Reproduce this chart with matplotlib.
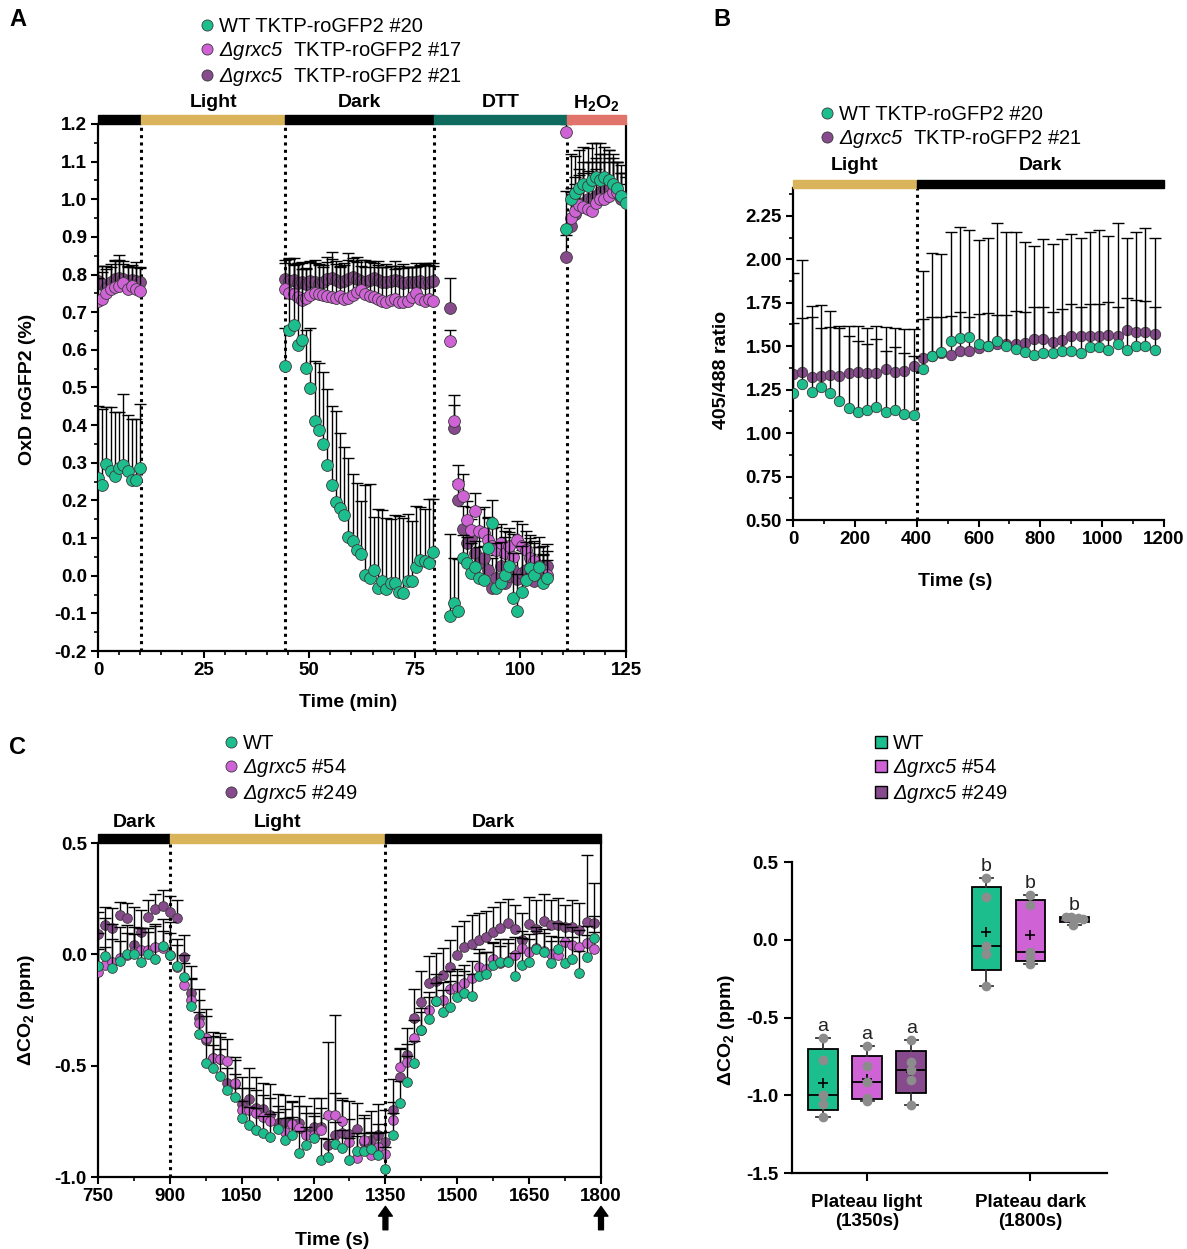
import numpy as np
import matplotlib
matplotlib.use('Agg')
import matplotlib.pyplot as plt
from matplotlib.patches import Rectangle
from matplotlib.lines import Line2D
import matplotlib.transforms as mtransforms
from matplotlib.ticker import MultipleLocator, FormatStrFormatter

plt.rcParams['font.family'] = ['Liberation Sans', 'DejaVu Sans']
plt.rcParams['mathtext.fontset'] = 'custom'
plt.rcParams['mathtext.rm'] = 'Liberation Sans:italic'
plt.rcParams['mathtext.it'] = 'Liberation Sans:italic'
plt.rcParams['mathtext.bf'] = 'Liberation Sans:bold'
plt.rcParams['axes.unicode_minus'] = False

# ---------------- colours ----------------
C_WT = '#1DBE8E'
C_PINK = '#CF63D6'
C_PURP = '#874A8C'
C_GOLD = '#D9B45A'
C_TEAL = '#0E6B5E'
C_RED = '#E0736A'

# ---------------- Panel A data ----------------
tA1 = np.arange(0, 11, 1.0)
wtA1 = [0.260, 0.242, 0.298, 0.277, 0.266, 0.286, 0.293, 0.277, 0.255, 0.255, 0.286]
wtA1_err = [0.19, 0.20, 0.15, 0.17, 0.17, 0.15, 0.19, 0.15, 0.16, 0.16, 0.17]
p17A1 = [0.730, 0.736, 0.752, 0.761, 0.766, 0.770, 0.777, 0.761, 0.770, 0.761, 0.757]
p17A1_err = [0.06, 0.07, 0.07, 0.06, 0.07, 0.07, 0.06, 0.06, 0.05, 0.06, 0.06]
p21A1 = [0.783, 0.774, 0.765, 0.779, 0.789, 0.792, 0.788, 0.783, 0.786, 0.783, 0.781]
p21A1_err = [0.04, 0.05, 0.05, 0.05, 0.05, 0.06, 0.04, 0.04, 0.04, 0.05, 0.04]

tA2 = np.arange(44.3, 79.4, 1.0)
wtA2 = [0.557, 0.654, 0.665, 0.612, 0.626, 0.553, 0.499, 0.410, 0.386, 0.350, 0.295, 0.240,
        0.197, 0.180, 0.162, 0.104, 0.091, 0.067, 0.058, 0.002, -0.007, 0.016, -0.033, -0.015,
        -0.036, -0.020, -0.020, -0.042, -0.046, -0.015, -0.015, 0.024, 0.042, 0.038, 0.035, 0.064]
wtA2_err = [0.10, 0.19, 0.18, 0.22, 0.19, 0.10, 0.16, 0.16, 0.18, 0.19, 0.20, 0.21,
            0.24, 0.20, 0.18, 0.21, 0.18, 0.18, 0.14, 0.24, 0.25, 0.14, 0.21, 0.19,
            0.19, 0.17, 0.18, 0.20, 0.20, 0.18, 0.16, 0.16, 0.14, 0.14, 0.17, 0.14]
p17A2 = [0.762, 0.752, 0.748, 0.741, 0.733, 0.738, 0.745, 0.752, 0.748, 0.746, 0.743, 0.741,
         0.738, 0.743, 0.735, 0.738, 0.746, 0.753, 0.760, 0.748, 0.743, 0.741, 0.735, 0.731,
         0.728, 0.733, 0.735, 0.728, 0.728, 0.731, 0.741, 0.750, 0.735, 0.730, 0.736, 0.730]
p17A2_err = [0.07, 0.09, 0.08, 0.09, 0.10, 0.08, 0.09, 0.08, 0.08, 0.08, 0.09, 0.10,
             0.09, 0.08, 0.09, 0.10, 0.09, 0.08, 0.08, 0.09, 0.09, 0.08, 0.09, 0.09,
             0.10, 0.09, 0.08, 0.09, 0.09, 0.09, 0.08, 0.07, 0.09, 0.10, 0.09, 0.10]
p21A2 = [0.789, 0.782, 0.786, 0.778, 0.781, 0.776, 0.784, 0.779, 0.776, 0.781, 0.788, 0.791,
         0.785, 0.779, 0.782, 0.788, 0.793, 0.787, 0.784, 0.779, 0.786, 0.790, 0.785, 0.781,
         0.779, 0.783, 0.786, 0.784, 0.778, 0.781, 0.779, 0.780, 0.784, 0.778, 0.780, 0.782]
p21A2_err = [0.05, 0.06, 0.04, 0.05, 0.05, 0.04, 0.05, 0.06, 0.05, 0.04, 0.06, 0.07,
             0.05, 0.04, 0.05, 0.07, 0.05, 0.06, 0.04, 0.04, 0.05, 0.04, 0.05, 0.04,
             0.04, 0.04, 0.05, 0.04, 0.05, 0.04, 0.04, 0.05, 0.04, 0.05, 0.05, 0.04]

tA3 = np.arange(83.3, 107.0, 1.0)
wtA3 = [-0.108, -0.073, -0.095, 0.047, 0.033, 0.007, 0.023, -0.005, -0.011, 0.073, 0.140, -0.033,
        -0.020, 0.003, 0.025, -0.060, -0.095, -0.042, -0.011, 0.020, 0.003, 0.023, -0.020, -0.005]
wtA3_err = [0.22, 0.12, 0.14, 0.06, 0.07, 0.08, 0.07, 0.08, 0.09, 0.08, 0.06, 0.12,
            0.11, 0.10, 0.09, 0.12, 0.10, 0.12, 0.10, 0.08, 0.09, 0.08, 0.10, 0.09]
p17A3 = [0.623, 0.410, 0.244, 0.211, 0.149, 0.122, 0.171, 0.118, 0.113, 0.095, 0.078, 0.069,
         0.087, 0.060, 0.078, 0.051, 0.095, 0.078, 0.069, 0.047, 0.038, 0.025, 0.016, 0.003]
p17A3_err = [0.03, 0.07, 0.05, 0.06, 0.05, 0.06, 0.05, 0.06, 0.07, 0.06, 0.05, 0.06,
             0.05, 0.06, 0.05, 0.06, 0.05, 0.06, 0.05, 0.06, 0.05, 0.05, 0.04, 0.04]
p21A3 = [0.712, 0.393, 0.202, 0.124, 0.087, 0.100, 0.060, 0.033, 0.047, 0.016, -0.033, -0.006,
         0.025, -0.020, -0.002, 0.016, -0.010, 0.007, 0.016, -0.002, -0.015, 0.025, 0.007, 0.025]
p21A3_err = [0.08, 0.06, 0.05, 0.06, 0.06, 0.05, 0.06, 0.07, 0.06, 0.06, 0.08, 0.06,
             0.05, 0.07, 0.06, 0.06, 0.07, 0.06, 0.06, 0.06, 0.06, 0.05, 0.05, 0.04]

tA4 = np.arange(110.9, 125.5, 1.0)
wtA4 = [0.921, 1.000, 1.016, 1.030, 1.040, 1.035, 1.050, 1.060, 1.050, 1.060, 1.050, 1.040, 1.030, 1.010, 0.990]
wtA4_err = [0.10, 0.12, 0.10, 0.10, 0.10, 0.10, 0.10, 0.09, 0.10, 0.08, 0.08, 0.08, 0.07, 0.06, 0.05]
p17A4 = [1.179, 0.950, 0.970, 0.985, 0.980, 0.975, 0.970, 0.990, 1.000, 1.000, 1.010, 1.020, 1.020, 1.010, 1.000]
p17A4_err = [0.02, 0.08, 0.07, 0.08, 0.09, 0.10, 0.10, 0.09, 0.10, 0.10, 0.10, 0.09, 0.08, 0.08, 0.07]
p21A4 = [0.846, 0.930, 0.960, 0.980, 0.990, 1.000, 1.000, 1.010, 1.020, 1.030, 1.030, 1.020, 1.020, 1.000, 1.000]
p21A4_err = [0.06, 0.09, 0.10, 0.10, 0.11, 0.10, 0.10, 0.10, 0.10, 0.09, 0.10, 0.08, 0.08, 0.07, 0.06]

A_phases = [(0, 10.2, 'black', ''), (10.2, 44.3, C_GOLD, 'Light'), (44.3, 79.5, 'black', 'Dark'),
            (79.5, 111.0, C_TEAL, 'DTT'), (111.0, 125, C_RED, 'H$_\\mathbf{2}$O$_\\mathbf{2}$')]
A_vlines = [10.2, 44.3, 79.5, 111.0]

# ---------------- Panel B data ----------------
tB = np.arange(0, 1200, 30)
wtB = [1.231, 1.284, 1.235, 1.265, 1.231, 1.184, 1.146, 1.121, 1.131, 1.152, 1.124, 1.134, 1.108, 1.102,
       1.368, 1.443, 1.466, 1.527, 1.549, 1.553, 1.511, 1.500, 1.530, 1.500, 1.485, 1.466, 1.449, 1.462,
       1.462, 1.473, 1.470, 1.460, 1.494, 1.494, 1.480, 1.510, 1.480, 1.500, 1.500, 1.477]
wtB_err = [0.40, 0.71, 0.43, 0.34, 0.38, 0.43, 0.41, 0.41, 0.38, 0.39, 0.35, 0.36, 0.35, 0.34,
           0.289, 0.224, 0.201, 0.149, 0.146, 0.114, 0.175, 0.189, 0.152, 0.182, 0.220, 0.233, 0.278, 0.265,
           0.237, 0.241, 0.272, 0.267, 0.248, 0.248, 0.272, 0.217, 0.300, 0.265, 0.258, 0.250]
p21B = [1.341, 1.350, 1.322, 1.326, 1.335, 1.326, 1.345, 1.354, 1.345, 1.345, 1.368, 1.354, 1.360, 1.387,
        1.431, 1.443, 1.460, 1.450, 1.470, 1.473, 1.487, 1.500, 1.515, 1.510, 1.515, 1.518, 1.544, 1.544,
        1.525, 1.538, 1.560, 1.556, 1.556, 1.556, 1.567, 1.560, 1.594, 1.580, 1.580, 1.570]
p21B_err = [0.58, 0.31, 0.41, 0.41, 0.37, 0.28, 0.27, 0.26, 0.26, 0.27, 0.24, 0.25, 0.24, 0.21,
            0.501, 0.593, 0.570, 0.705, 0.718, 0.695, 0.625, 0.625, 0.691, 0.645, 0.640, 0.584, 0.530, 0.573,
            0.564, 0.579, 0.586, 0.569, 0.599, 0.612, 0.569, 0.646, 0.527, 0.575, 0.598, 0.555]
B_phases = [(0, 400, C_GOLD, 'Light'), (400, 1200, 'black', 'Dark')]

# ---------------- Panel C data ----------------
tC = np.arange(750, 1800, 15)
wtC = [-0.053, -0.006, -0.063, -0.029, 0.001, 0.001, -0.033, 0.000, -0.023, 0.039,
       -0.003, -0.053, -0.103, -0.231, -0.358, -0.490, -0.509, -0.545, -0.609, -0.639,
       -0.737, -0.767, -0.789, -0.804, -0.819, -0.786, -0.834, -0.811, -0.894, -0.856,
       -0.826, -0.924, -0.909, -0.852, -0.871, -0.924, -0.882, -0.882, -0.876, -0.901,
       -0.966, -0.811, -0.669, -0.575, -0.490, -0.340, -0.292, -0.208, -0.258, -0.238,
       -0.193, -0.175, -0.187, -0.096, -0.088, -0.048, -0.033, -0.033, -0.096, -0.048,
       -0.033, 0.022, 0.012, -0.038, 0.022, -0.038, -0.020, -0.083, -0.013, 0.072]
wtC_err = [0.15, 0.17, 0.20, 0.15, 0.13, 0.12, 0.15, 0.12, 0.15, 0.12, 0.15, 0.12,
           0.10, 0.12, 0.10, 0.12, 0.10, 0.12, 0.10, 0.10,
           0.08, 0.08, 0.10, 0.08, 0.10, 0.08, 0.10, 0.08, 0.10, 0.08, 0.10, 0.10, 0.08, 0.10, 0.08,
           0.10, 0.08, 0.08, 0.08, 0.10, 0.10,
           0.10, 0.10, 0.12, 0.10, 0.10, 0.10, 0.12, 0.10, 0.12, 0.10, 0.10, 0.10, 0.10, 0.10, 0.10,
           0.10, 0.10, 0.10, 0.12, 0.10, 0.10, 0.10, 0.10, 0.12, 0.10, 0.10, 0.10, 0.10, 0.10]
p54C = [-0.078, -0.048, -0.033, -0.018, -0.003, 0.012, 0.019, 0.019, 0.034, 0.027,
        -0.003, -0.056, -0.138, -0.205, -0.307, -0.377, -0.467, -0.472, -0.479, -0.576,
        -0.699, -0.699, -0.711, -0.732, -0.747, -0.781, -0.796, -0.762, -0.781, -0.811,
        -0.811, -0.789, -0.722, -0.722, -0.747, -0.841, -0.916, -0.834, -0.901, -0.864,
        -0.897, -0.744, -0.505, -0.483, -0.377, -0.340, -0.250, -0.208, -0.205, -0.157,
        -0.145, -0.130, -0.108, -0.056, -0.068, -0.023, -0.041, -0.029, -0.003, 0.027,
        0.012, 0.027, 0.016, 0.001, -0.003, 0.057, 0.042, 0.031, 0.049, 0.022]
p54C_err = [0.10, 0.08, 0.10, 0.08, 0.10, 0.08, 0.10, 0.08, 0.10, 0.08, 0.10, 0.10,
            0.10, 0.10, 0.10, 0.10, 0.10, 0.10, 0.10, 0.10,
            0.10, 0.10, 0.10, 0.10, 0.10, 0.10, 0.10, 0.10, 0.10, 0.10, 0.10, 0.10, 0.33, 0.10, 0.10,
            0.10, 0.10, 0.10, 0.10, 0.10, 0.10,
            0.08, 0.08, 0.08, 0.08, 0.08, 0.08, 0.08, 0.08, 0.08, 0.08, 0.08, 0.08, 0.08, 0.08, 0.08,
            0.08, 0.08, 0.08, 0.08, 0.08, 0.08, 0.08, 0.08, 0.08, 0.08, 0.08, 0.08, 0.08, 0.08]
p249C = [0.091, 0.132, 0.117, 0.176, 0.162, 0.042, 0.101, 0.166, 0.202, 0.217,
         0.191, 0.162, -0.011, -0.172, -0.287, -0.385, -0.467, -0.472, -0.579, -0.582,
         -0.672, -0.651, -0.692, -0.696, -0.722, -0.759, -0.752, -0.759, -0.756, -0.801,
         -0.777, -0.774, -0.856, -0.811, -0.804, -0.807, -0.786, -0.841, -0.834, -0.811,
         -0.841, -0.699, -0.549, -0.452, -0.287, -0.213, -0.127, -0.122, -0.093, -0.056,
         -0.003, 0.031, 0.046, 0.064, 0.076, 0.101, 0.117, 0.139, 0.112, 0.064,
         0.136, 0.112, 0.151, 0.132, 0.132, 0.121, 0.124, 0.109, 0.146, 0.139]
p249C_err = [0.10, 0.08, 0.09, 0.06, 0.07, 0.17, 0.10, 0.08, 0.07, 0.07, 0.07, 0.08,
             0.10, 0.12, 0.13, 0.14, 0.12, 0.12, 0.12, 0.12,
             0.12, 0.14, 0.14, 0.12, 0.14, 0.13, 0.12, 0.10, 0.12, 0.12, 0.13, 0.13, 0.12, 0.54, 0.15,
             0.15, 0.12, 0.12, 0.13, 0.14, 0.14,
             0.14, 0.13, 0.12, 0.13, 0.14, 0.12, 0.13, 0.12, 0.12, 0.13, 0.12, 0.13, 0.12, 0.12, 0.11,
             0.12, 0.11, 0.11, 0.12, 0.12, 0.13, 0.12, 0.11, 0.12, 0.10, 0.12, 0.12, 0.30, 0.18]
C_phases = [(750, 900, 'black', 'Dark'), (900, 1350, C_GOLD, 'Light'), (1350, 1800, 'black', 'Dark')]

# ---------------- Panel D data ----------------
D_groups = ['Plateau light\n(1350s)', 'Plateau dark\n(1800s)']
D_WT = [[-0.630, -0.776, -1.000, -1.058, -1.137], [0.395, 0.278, -0.040, -0.092, -0.295]]
D_54 = [[-0.684, -0.812, -0.915, -1.015, -1.036], [0.288, 0.224, -0.077, -0.118, -0.154]]
D_249 = [[-0.645, -0.786, -0.840, -0.902, -1.064], [0.147, 0.145, 0.139, 0.132, 0.098]]
D_letters = [['a', 'a', 'a'], ['b', 'b', 'b']]

# ---------------- figure ----------------
W, H = 1187, 1249
fig = plt.figure(figsize=(W / 100, H / 100), dpi=100)


def add_ax(l, t, r, b):
    return fig.add_axes([l / W, 1 - b / H, (r - l) / W, (b - t) / H])


TICKFS = 13.5
LABFS = 14
LEGFS = 14.5


def style_axes(ax, right=False):
    ax.spines['top'].set_visible(False)
    ax.spines['right'].set_visible(right)
    for s in ax.spines.values():
        s.set_linewidth(1.6)
    ax.tick_params(which='major', length=5, width=1.5, labelsize=TICKFS, pad=3)
    ax.tick_params(which='minor', length=3, width=1.2)
    ax.tick_params(right=False, top=False, which='both')
    for lab in ax.get_xticklabels() + ax.get_yticklabels():
        lab.set_fontweight('bold')


def series(ax, t, y, e, color, ms, capw, z):
    t = np.asarray(t, float); y = np.asarray(y, float); e = np.asarray(e, float)
    ax.vlines(t, y, y + e, color='black', lw=1.0, zorder=z)
    ax.plot(t, y + e, ls='none', marker='_', ms=capw, mew=1.0, color='black', zorder=z)
    ax.plot(t, y, ls='none', marker='o', ms=ms, mfc=color, mec='#3a3a3a', mew=0.6, zorder=z + 0.5,
            clip_on=True)


def phase_bars(ax, phases, h, ylab):
    tr = mtransforms.blended_transform_factory(ax.transData, ax.transAxes)
    for x0, x1, col, lab in phases:
        ax.add_patch(Rectangle((x0, 1.0), x1 - x0, h, transform=tr, color=col, clip_on=False, zorder=5))
        if lab:
            ax.text((x0 + x1) / 2, ylab, lab, transform=tr, ha='center', va='center',
                    fontsize=LABFS, fontweight='bold')


def vdots(ax, xs):
    for x in xs:
        ax.axvline(x, color='black', ls=(0, (1, 1.4)), lw=2.2, zorder=1)


# ================= Panel A =================
axA = add_ax(98, 124, 626, 651)
axA.set_xlim(0, 125)
axA.set_ylim(-0.2, 1.2)
axA.xaxis.set_major_locator(MultipleLocator(25))
axA.xaxis.set_minor_locator(MultipleLocator(5))
axA.yaxis.set_major_locator(MultipleLocator(0.1))
axA.yaxis.set_minor_locator(MultipleLocator(0.05))
axA.yaxis.set_major_formatter(FormatStrFormatter('%.1f'))
vdots(axA, A_vlines)
for (t, w, we, a, ae, b, be) in [(tA1, wtA1, wtA1_err, p17A1, p17A1_err, p21A1, p21A1_err),
                                  (tA2, wtA2, wtA2_err, p17A2, p17A2_err, p21A2, p21A2_err),
                                  (tA3, wtA3, wtA3_err, p17A3, p17A3_err, p21A3, p21A3_err),
                                  (tA4, wtA4, wtA4_err, p17A4, p17A4_err, p21A4, p21A4_err)]:
    series(axA, t, b, be, C_PURP, 8.5, 9, 2)
    series(axA, t, a, ae, C_PINK, 8.5, 9, 3)
    series(axA, t, w, we, C_WT, 8.5, 9, 4)
style_axes(axA, right=True)
phase_bars(axA, A_phases, 0.018, 1.04)
axA.set_xlabel('Time (min)', fontsize=LABFS, fontweight='bold')
axA.set_ylabel('OxD roGFP2 (%)', fontsize=LABFS, fontweight='bold')
axA.xaxis.set_label_coords(0.473, -0.082)
axA.yaxis.set_label_coords(-0.118, 0.496)

# ================= Panel B =================
axB = add_ax(793, 188, 1164, 520)
axB.set_xlim(0, 1200)
axB.set_ylim(0.5, 2.41)
axB.xaxis.set_major_locator(MultipleLocator(200))
axB.xaxis.set_minor_locator(MultipleLocator(100))
axB.yaxis.set_major_locator(MultipleLocator(0.25))
axB.yaxis.set_minor_locator(MultipleLocator(0.125))
axB.yaxis.set_major_formatter(FormatStrFormatter('%.2f'))
vdots(axB, [400])
series(axB, tB, p21B, p21B_err, C_PURP, 7.5, 8, 2)
series(axB, tB, wtB, wtB_err, C_WT, 7.5, 8, 3)
style_axes(axB)
phase_bars(axB, B_phases, 0.025, 1.068)
axB.set_xlabel('Time (s)', fontsize=LABFS, fontweight='bold')
axB.set_ylabel('405/488 ratio', fontsize=LABFS, fontweight='bold')
axB.xaxis.set_label_coords(0.437, -0.16)
axB.yaxis.set_label_coords(-0.17, 0.452)

# ================= Panel C =================
axC = add_ax(98, 843, 601, 1177)
axC.set_xlim(750, 1800)
axC.set_ylim(-1.0, 0.5)
axC.xaxis.set_major_locator(MultipleLocator(150))
axC.xaxis.set_minor_locator(MultipleLocator(75))
axC.yaxis.set_major_locator(MultipleLocator(0.5))
axC.yaxis.set_major_formatter(FormatStrFormatter('%.1f'))
vdots(axC, [900, 1350])
series(axC, tC, p249C, p249C_err, C_PURP, 7, 8, 2)
series(axC, tC, p54C, p54C_err, C_PINK, 7, 8, 3)
series(axC, tC, wtC, wtC_err, C_WT, 7, 8, 4)
style_axes(axC, right=True)
phase_bars(axC, C_phases, 0.027, 1.06)
axC.set_xlabel('Time (s)', fontsize=LABFS, fontweight='bold')
axC.set_ylabel('ΔCO$_\\mathbf{2}$ (ppm)', fontsize=LABFS, fontweight='bold')
axC.xaxis.set_label_coords(0.465, -0.165)
axC.yaxis.set_label_coords(-0.121, 0.5)
trC = mtransforms.blended_transform_factory(axC.transData, axC.transAxes)
for xa in [1350, 1800]:
    axC.annotate('', xy=(xa, -0.088), xytext=(xa, -0.158), xycoords=trC, textcoords=trC,
                 arrowprops=dict(facecolor='black', edgecolor='black', width=3.5,
                                 headwidth=10, headlength=7, shrink=0))

# ================= Panel D =================
axD = add_ax(792, 862, 1107, 1173)
axD.set_xlim(-0.46, 1.47)
axD.set_ylim(-1.5, 0.5)
axD.yaxis.set_major_locator(MultipleLocator(0.5))
axD.yaxis.set_major_formatter(FormatStrFormatter('%.1f'))
offsets = [-0.27, 0.0, 0.27]
colors = [C_WT, C_PINK, C_PURP]
stats, pos, fills, pts = [], [], [], []
for g in range(2):
    for k, data in enumerate([D_WT[g], D_54[g], D_249[g]]):
        d = np.asarray(data, float)
        q1, q3 = np.percentile(d, [25, 75], method='weibull')
        stats.append(dict(med=np.median(d), q1=q1, q3=q3, whislo=d.min(), whishi=d.max(),
                          mean=d.mean(), fliers=[]))
        pos.append(g + offsets[k])
        fills.append(colors[k])
        pts.append(d)
bp = axD.bxp(stats, positions=pos, widths=0.18, patch_artist=True, showmeans=True,
             showfliers=False, capwidths=0.08,
             boxprops=dict(edgecolor='black', linewidth=1.3),
             medianprops=dict(color='black', linewidth=1.3),
             whiskerprops=dict(color='#333333', linewidth=1.3),
             capprops=dict(color='#333333', linewidth=1.3),
             meanprops=dict(marker='+', markeredgecolor='black', markersize=7, markeredgewidth=1.2))
for patch, col in zip(bp['boxes'], fills):
    patch.set_facecolor(col)
for p, d in zip(pos, pts):
    xs = [p] * len(d)
    if np.ptp(d) < 0.1:
        xs = [p - 0.05, p - 0.02, p + 0.02, p + 0.05, p - 0.01]
    axD.plot(xs, d, ls='none', marker='o', ms=6, mfc='#8C8C8C', mec='#8C8C8C', zorder=4)
idx = 0
for g in range(2):
    for k in range(3):
        axD.text(pos[idx], stats[idx]['whishi'] + 0.02, D_letters[g][k], ha='center', va='bottom',
                 fontsize=14, color='#222222')
        idx += 1
axD.set_xticks([0, 1])
axD.set_xticklabels(D_groups)
axD.spines['top'].set_visible(False)
axD.spines['right'].set_visible(False)
for s in axD.spines.values():
    s.set_linewidth(1.6)
axD.tick_params(which='major', length=6, width=1.5, labelsize=TICKFS, pad=4)
axD.tick_params(axis='x', pad=9)
for lab in axD.get_xticklabels() + axD.get_yticklabels():
    lab.set_fontweight('bold')
axD.set_ylabel('ΔCO$_\\mathbf{2}$ (ppm)', fontsize=LABFS, fontweight='bold')
axD.yaxis.set_label_coords(-0.175, 0.46)

# ================= Legends =================
def circ(c, ms=8):
    return Line2D([], [], ls='none', marker='o', ms=ms, mfc=c, mec='#3a3a3a', mew=0.6)


def sq(c, ms=9):
    return Line2D([], [], ls='none', marker='s', ms=ms, mfc=c, mec='black', mew=1.0)


lab_wt20 = 'WT TKTP-roGFP2 #20'
lab_17 = '$\\Delta grxc5$  TKTP-roGFP2 #17'
lab_21 = '$\\Delta grxc5$  TKTP-roGFP2 #21'
lab_54 = '$\\Delta grxc5$ #54'
lab_249 = '$\\Delta grxc5$ #249'
legkw = dict(loc='upper left', frameon=False, fontsize=LEGFS, handlelength=0.6, handletextpad=0.3,
             labelspacing=0.2, borderpad=0, borderaxespad=0, bbox_transform=fig.transFigure)
fig.legend([circ(C_WT), circ(C_PINK), circ(C_PURP)], [lab_wt20, lab_17, lab_21],
           bbox_to_anchor=(201 / W, 1 - 17 / H), **legkw)
fig.legend([circ(C_WT), circ(C_PURP)], [lab_wt20, lab_21],
           bbox_to_anchor=(821 / W, 1 - 105 / H), **legkw)
fig.legend([circ(C_WT), circ(C_PINK), circ(C_PURP)], ['WT', lab_54, lab_249],
           bbox_to_anchor=(225 / W, 1 - 734 / H), **legkw)
fig.legend([sq(C_WT), sq(C_PINK), sq(C_PURP)], ['WT', lab_54, lab_249],
           bbox_to_anchor=(875 / W, 1 - 734 / H), **legkw)

for txt, x, y in [('A', 18, 20), ('B', 722, 20), ('C', 18, 748)]:
    fig.text(x / W, 1 - y / H, txt, fontsize=17, fontweight='bold', ha='center', va='center')

fig.savefig('out.png', dpi=100)
